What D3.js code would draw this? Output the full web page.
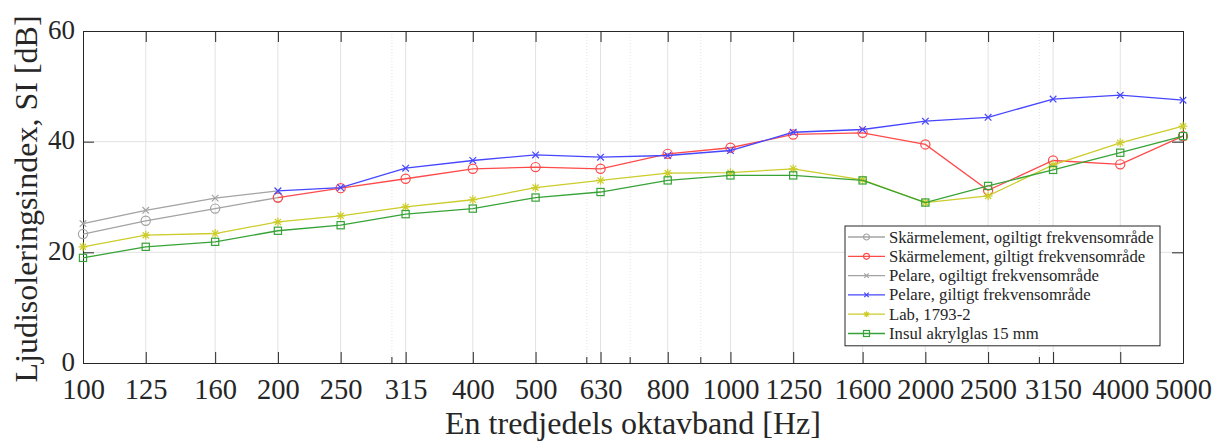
<!DOCTYPE html>
<html>
<head>
<meta charset="utf-8">
<script src="https://cdn.jsdelivr.net/npm/d3@7"></script>
<style>
  html, body { margin: 0; padding: 0; background: #fff; }
  svg { display: block; font-family: "Liberation Serif", "Times New Roman", serif; }
</style>
</head>
<body>
<svg id="chart" width="1214" height="441"></svg>
<script>
// Tredjedelsoktavband
const freqs = [100, 125, 160, 200, 250, 315, 400, 500, 630, 800, 1000, 1250, 1600, 2000, 2500, 3150, 4000, 5000];
const freqLabels = ['100', '125', '160', '200', '250', '315', '400', '500', '630', '800', '1000', '1250', '1600', '2000', '2500', '3150', '4000', '5000'];
const minorFreqs = [300, 600, 700, 900, 3000];
const yTicks = [0, 20, 40, 60];

// Mätvärden, SI [dB]
const skarmOgiltigFreqs = [100, 125, 160, 200];
const skarmOgiltig = [23.3, 25.7, 27.9, 29.9];
const skarmGiltigFreqs = [200, 250, 315, 400, 500, 630, 800, 1000, 1250, 1600, 2000, 2500, 3150, 4000, 5000];
const skarmGiltig = [29.9, 31.6, 33.3, 35.1, 35.4, 35.1, 37.8, 38.9, 41.3, 41.6, 39.5, 31.2, 36.6, 35.9, 41.0];
const pelareOgiltigFreqs = [100, 125, 160, 200];
const pelareOgiltig = [25.2, 27.6, 29.8, 31.1];
const pelareGiltigFreqs = [200, 250, 315, 400, 500, 630, 800, 1000, 1250, 1600, 2000, 2500, 3150, 4000, 5000];
const pelareGiltig = [31.1, 31.7, 35.2, 36.6, 37.6, 37.2, 37.5, 38.4, 41.7, 42.2, 43.7, 44.4, 47.7, 48.4, 47.5];
const lab = [21.0, 23.1, 23.4, 25.5, 26.6, 28.2, 29.5, 31.7, 33.0, 34.3, 34.4, 35.1, 33.1, 29.0, 30.2, 35.8, 39.8, 42.8];
const insul = [19.0, 21.0, 21.9, 23.9, 24.9, 26.9, 27.9, 29.9, 30.9, 33.0, 33.9, 33.9, 33.0, 29.0, 32.0, 34.9, 38.0, 41.0];

const series = [
    { name: 'Skärmelement, ogiltigt frekvensområde', f: skarmOgiltigFreqs, v: skarmOgiltig, color: '#a3a3a3', marker: 'circle' },
    { name: 'Skärmelement, giltigt frekvensområde', f: skarmGiltigFreqs, v: skarmGiltig, color: '#ff4a4a', marker: 'circle' },
    { name: 'Pelare, ogiltigt frekvensområde', f: pelareOgiltigFreqs, v: pelareOgiltig, color: '#a3a3a3', marker: 'x' },
    { name: 'Pelare, giltigt frekvensområde', f: pelareGiltigFreqs, v: pelareGiltig, color: '#4646ff', marker: 'x' },
    { name: 'Lab, 1793-2', f: freqs, v: lab, color: '#cccc2a', marker: 'star' },
    { name: 'Insul akrylglas 15 mm', f: freqs, v: insul, color: '#37a337', marker: 'square' }
];

const margin = { left: 83, right: 31, top: 31, bottom: 78 };
const width = 1214, height = 441;
const axisColor = '#262626';

const svg = d3.select('#chart');

const x = d3.scaleLog()
    .domain([100, 5000])
    .range([margin.left, width - margin.right]);

const y = d3.scaleLinear()
    .domain([0, 60])
    .range([height - margin.bottom, margin.top]);

const plotW = width - margin.right - margin.left;
const plotH = height - margin.bottom - margin.top;

// Rutnät
const grid = svg.append('g');
grid.selectAll('.minor')
    .data(minorFreqs)
    .enter()
    .append('line')
    .attr('x1', d => x(d)).attr('x2', d => x(d))
    .attr('y1', margin.top).attr('y2', height - margin.bottom)
    .attr('stroke', '#e4e4e4')
    .attr('stroke-dasharray', '1,2');

grid.selectAll('.vmajor')
    .data(freqs.slice(1, -1))
    .enter()
    .append('line')
    .attr('x1', d => x(d)).attr('x2', d => x(d))
    .attr('y1', margin.top).attr('y2', height - margin.bottom)
    .attr('stroke', '#e2e2e2');

grid.selectAll('.hmajor')
    .data(yTicks.slice(1, -1))
    .enter()
    .append('line')
    .attr('x1', margin.left).attr('x2', width - margin.right)
    .attr('y1', d => y(d)).attr('y2', d => y(d))
    .attr('stroke', '#e2e2e2');

// Axlar (ticks inåt, box på)
const tickLen = 11;
const xAxisBottom = d3.axisBottom(x)
    .tickValues(freqs)
    .tickFormat((d, i) => freqLabels[i])
    .tickSizeInner(-tickLen)
    .tickSizeOuter(0)
    .tickPadding(16);

const xAxisTop = d3.axisTop(x)
    .tickValues(freqs)
    .tickFormat('')
    .tickSizeInner(-tickLen)
    .tickSizeOuter(0);

const yAxisLeft = d3.axisLeft(y)
    .tickValues(yTicks)
    .tickFormat(d3.format('d'))
    .tickSizeInner(-tickLen)
    .tickSizeOuter(0)
    .tickPadding(8);

const yAxisRight = d3.axisRight(y)
    .tickValues(yTicks)
    .tickFormat('')
    .tickSizeInner(-tickLen)
    .tickSizeOuter(0);

const styleAxis = (g, fs) => {
    g.select('.domain').attr('stroke', axisColor);
    g.selectAll('.tick line').attr('stroke', axisColor);
    g.selectAll('.tick text')
        .attr('fill', axisColor)
        .style('font-family', '"Liberation Serif", serif')
        .style('font-size', fs + 'px');
};

svg.append('g')
    .attr('transform', `translate(0,${height - margin.bottom})`)
    .call(xAxisBottom)
    .call(g => styleAxis(g, 28.5));

svg.append('g')
    .attr('transform', `translate(0,${margin.top})`)
    .call(xAxisTop)
    .call(g => styleAxis(g, 28));

svg.append('g')
    .attr('transform', `translate(${margin.left},0)`)
    .call(yAxisLeft)
    .call(g => styleAxis(g, 27))
    .call(g => g.selectAll('.tick text').attr('dy', '0.26em'));

svg.append('g')
    .attr('transform', `translate(${width - margin.right},0)`)
    .call(yAxisRight)
    .call(g => styleAxis(g, 28));

// minor ticks on the x axis
svg.append('g')
    .selectAll('line')
    .data(minorFreqs)
    .enter()
    .append('line')
    .attr('x1', d => x(d)).attr('x2', d => x(d))
    .attr('y1', height - margin.bottom).attr('y2', height - margin.bottom - 6)
    .attr('stroke', axisColor);

// Markörer
const drawMarker = (g, type, color, s) => {
    if (type === 'circle') {
        g.append('circle').attr('r', s).attr('fill', 'none').attr('stroke', color).attr('stroke-width', 1.2);
    } else if (type === 'square') {
        g.append('rect').attr('x', -s).attr('y', -s).attr('width', 2 * s).attr('height', 2 * s)
            .attr('fill', 'none').attr('stroke', color).attr('stroke-width', 1.2);
    } else if (type === 'x') {
        const k = s * 0.75;
        g.append('path').attr('d', `M${-k},${-k}L${k},${k}M${-k},${k}L${k},${-k}`)
            .attr('stroke', color).attr('stroke-width', 1.2);
    } else if (type === 'star') {
        const k = s * 0.7;
        g.append('path').attr('d', `M${-s},0L${s},0M0,${-s}L0,${s}M${-k},${-k}L${k},${k}M${-k},${k}L${k},${-k}`)
            .attr('stroke', color).attr('stroke-width', 1.2);
    }
};

const markerSize = { circle: 4.6, square: 3.6, x: 4.4, star: 4.4 };

const line = d3.line()
    .x(d => x(d[0]))
    .y(d => y(d[1]));

const plot = svg.append('g');
series.forEach(s => {
    const pts = s.f.map((f, i) => [f, s.v[i]]);
    const g = plot.append('g');
    g.append('path')
        .datum(pts)
        .attr('d', line)
        .attr('fill', 'none')
        .attr('stroke', s.color)
        .attr('stroke-width', 1.3);
    g.selectAll('.m')
        .data(pts)
        .enter()
        .append('g')
        .attr('transform', d => `translate(${x(d[0])},${y(d[1])})`)
        .each(function () { drawMarker(d3.select(this), s.marker, s.color, markerSize[s.marker]); });
});

// Axeltitlar
svg.append('text')
    .attr('x', margin.left + plotW / 2)
    .attr('y', 434)
    .attr('text-anchor', 'middle')
    .attr('fill', axisColor)
    .style('font-size', '32px')
    .text('En tredjedels oktavband [Hz]');

svg.append('text')
    .attr('transform', `translate(37,${margin.top + plotH / 2 + 2}) rotate(-90)`)
    .attr('text-anchor', 'middle')
    .attr('fill', axisColor)
    .style('font-size', '32px')
    .text('Ljudisoleringsindex, SI [dB]');

// Legend
const legX = 845, legY = 226, legW = 315, rowH = 19.3;
const legend = svg.append('g').attr('transform', `translate(${legX},${legY})`);
legend.append('rect')
    .attr('width', legW)
    .attr('height', rowH * series.length + 4)
    .attr('fill', '#fff')
    .attr('stroke', axisColor)
    .attr('stroke-width', 1);

series.forEach((s, i) => {
    const row = legend.append('g').attr('transform', `translate(0,${11 + i * rowH})`);
    row.append('line').attr('x1', 3).attr('x2', 40).attr('y1', 0).attr('y2', 0)
        .attr('stroke', s.color).attr('stroke-width', 1.3);
    const m = row.append('g').attr('transform', 'translate(21.5,0)');
    drawMarker(m, s.marker, s.color, 3);
    row.append('text')
        .attr('x', 44)
        .attr('y', 0)
        .attr('dy', '0.33em')
        .attr('fill', axisColor)
        .style('font-size', '16.7px')
        .text(s.name);
});
</script>
</body>
</html>
